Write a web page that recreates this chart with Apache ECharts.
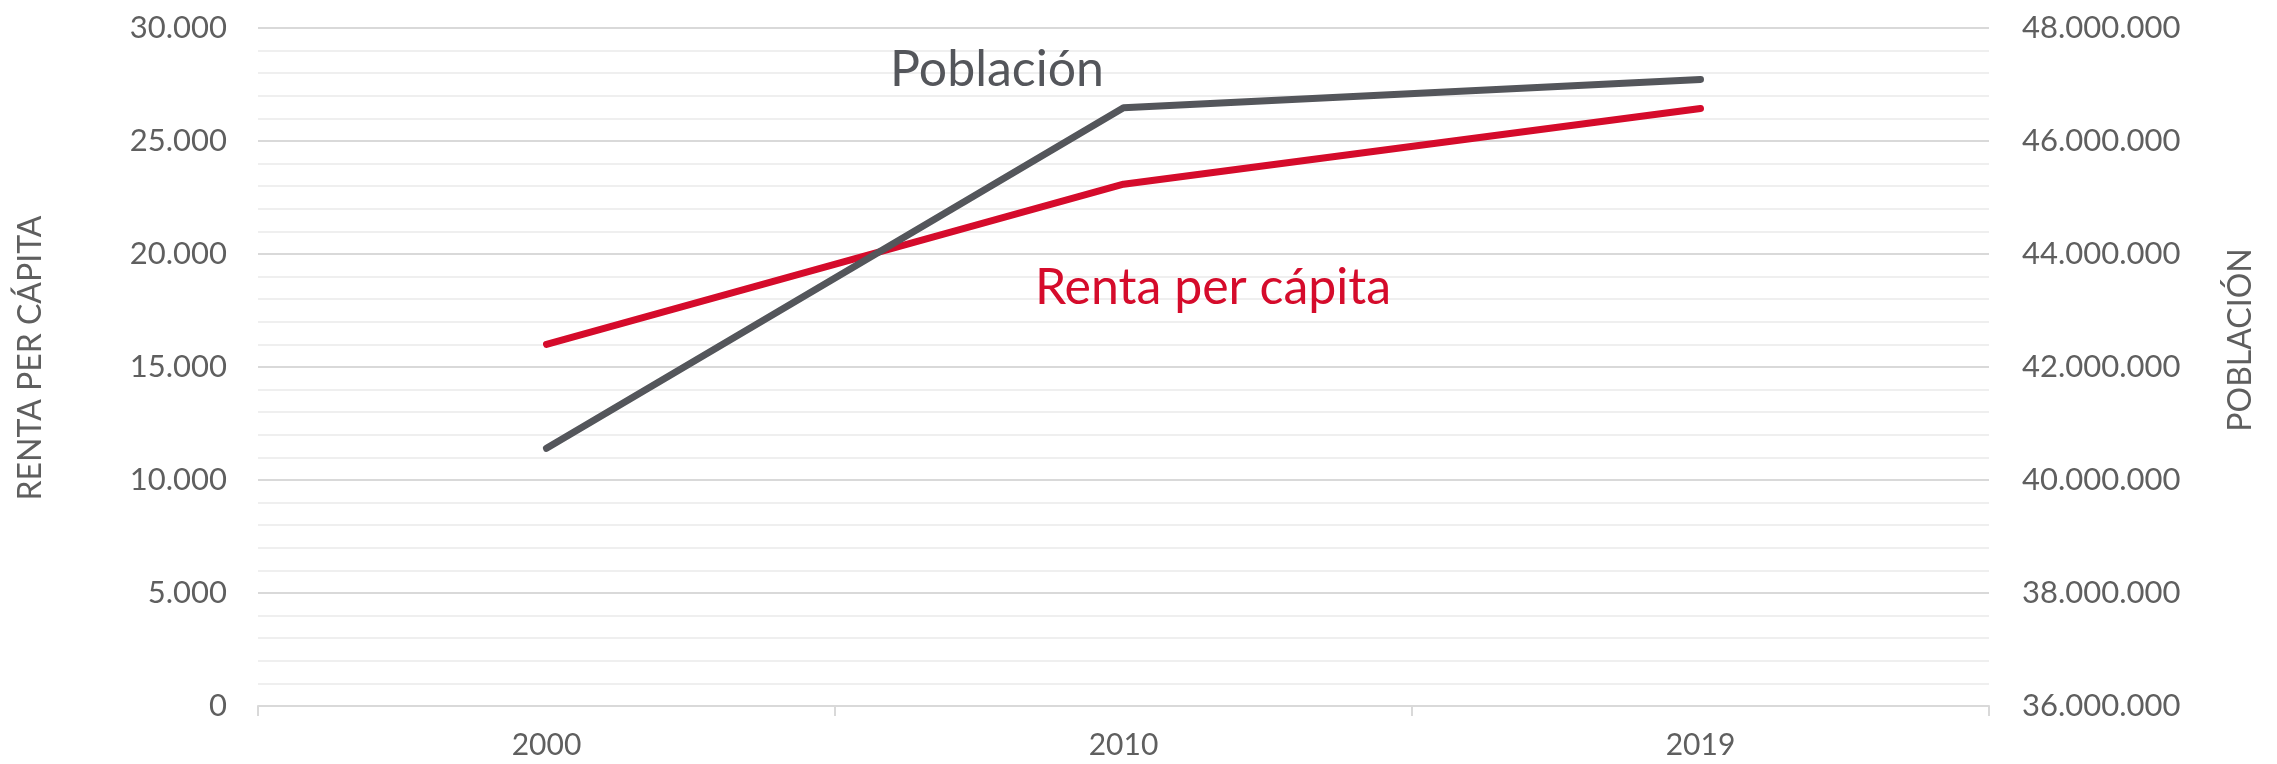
<!DOCTYPE html>
<html>
<head>
<meta charset="utf-8">
<script src="https://cdn.jsdelivr.net/npm/echarts@6/dist/echarts.min.js"></script>
<style>
html,body{margin:0;padding:0;background:#fff;}
#chart{width:2277px;height:764px;}
</style>
</head>
<body>
<div id="chart"></div>
<script>
const categories = ['2000', '2010', '2019'];
const rentaPerCapita = [16000, 23090, 26440];
const poblacion = [40560000, 46590000, 47090000];
const leftTicks = { min: 0, max: 30000, interval: 5000 };
const rightTicks = { min: 36000000, max: 48000000, interval: 2000000 };
const leftAxisName = 'RENTA PER CÁPITA';
const rightAxisName = 'POBLACIÓN';
const seriesNames = ['Renta per cápita', 'Población'];

const RED = '#d50b2b';
const GREY = '#54565b';
const TXT = '#5f5f5f';
const FONT = 'Lato, "Open Sans", sans-serif';

function fmt(v) {
  return String(Math.round(v)).replace(/\B(?=(\d{3})+(?!\d))/g, '.');
}

const chart = echarts.init(document.getElementById('chart'), null, { renderer: 'canvas' });
chart.setOption({
  animation: false,
  backgroundColor: '#fff',
  grid: { left: 258, right: 288, top: 28, bottom: 58, containLabel: false },
  xAxis: {
    type: 'category',
    data: categories,
    boundaryGap: true,
    axisLine: { show: true, lineStyle: { color: '#d9d9d9', width: 2 } },
    axisTick: { show: true, length: 10, lineStyle: { color: '#d9d9d9', width: 2 } },
    axisLabel: { color: TXT, fontSize: 30, fontFamily: FONT, margin: 24 },
    splitLine: { show: false }
  },
  yAxis: [
    {
      type: 'value',
      min: leftTicks.min, max: leftTicks.max, interval: leftTicks.interval,
      axisLine: { show: false },
      axisTick: { show: false },
      axisLabel: { color: TXT, fontSize: 31, fontFamily: FONT, margin: 31, formatter: fmt },
      splitLine: { show: true, lineStyle: { color: '#d9d9d9', width: 2 } },
      minorTick: { show: false, splitNumber: 5 },
      minorSplitLine: { show: true, lineStyle: { color: '#efefef', width: 2 } }
    },
    {
      type: 'value',
      min: rightTicks.min, max: rightTicks.max, interval: rightTicks.interval,
      position: 'right',
      axisLine: { show: false },
      axisTick: { show: false },
      axisLabel: { color: TXT, fontSize: 31, fontFamily: FONT, margin: 33, formatter: fmt },
      splitLine: { show: false }
    }
  ],
  series: [
    {
      name: seriesNames[0],
      type: 'line',
      yAxisIndex: 0,
      data: rentaPerCapita,
      symbol: 'none',
      lineStyle: { color: RED, width: 7, cap: 'round', join: 'round' },
      itemStyle: { color: RED },
      z: 3
    },
    {
      name: seriesNames[1],
      type: 'line',
      yAxisIndex: 1,
      data: poblacion,
      symbol: 'none',
      lineStyle: { color: GREY, width: 7, cap: 'round', join: 'round' },
      itemStyle: { color: GREY },
      z: 4
    }
  ],
  graphic: {
    elements: [
      {
        type: 'text', z: 100,
        x: 31, y: 358, rotation: Math.PI / 2,
        style: { text: leftAxisName, fill: TXT, font: 'normal 32px ' + FONT, textAlign: 'center', textVerticalAlign: 'middle' }
      },
      {
        type: 'text', z: 100,
        x: 2241, y: 340, rotation: Math.PI / 2,
        style: { text: rightAxisName, fill: TXT, font: 'normal 32px ' + FONT, textAlign: 'center', textVerticalAlign: 'middle' }
      },
      {
        type: 'text', z: 100,
        x: 997, y: 70,
        style: { text: seriesNames[1], fill: GREY, font: 'normal 50px ' + FONT, textAlign: 'center', textVerticalAlign: 'middle' }
      },
      {
        type: 'text', z: 100,
        x: 1213, y: 288,
        style: { text: seriesNames[0], fill: RED, font: 'normal 50px ' + FONT, textAlign: 'center', textVerticalAlign: 'middle' }
      }
    ]
  }
});
</script>
</body>
</html>
